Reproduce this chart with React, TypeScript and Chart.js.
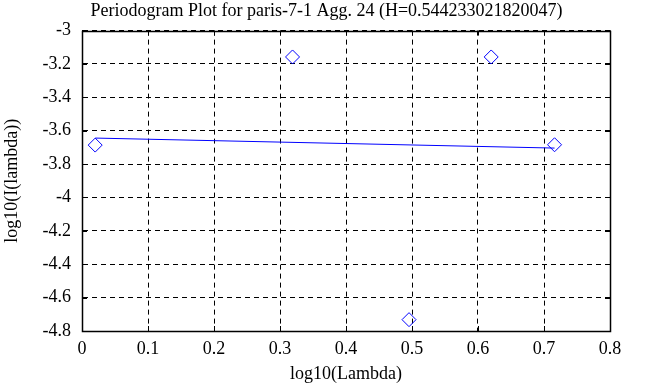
import React, { useEffect, useRef } from "react";
import { Chart, registerables } from "chart.js";

Chart.register(...registerables);

const TITLE = "Periodogram Plot for paris-7-1 Agg. 24 (H=0.544233021820047)";
const X_LABEL = "log10(Lambda)";
const Y_LABEL = "log10(I(lambda))";

const pointX = [0.02, 0.319, 0.4955, 0.62, 0.716];
const pointY = [-3.686, -3.158, -4.732, -3.158, -3.684];

const fitX = [0.02, 0.716];
const fitY = [-3.644, -3.704];

const X_MIN = 0;
const X_MAX = 0.8;
const X_STEP = 0.1;
const Y_MIN = -4.8;
const Y_MAX = -3;
const Y_STEP = 0.2;

const FONT = "'Liberation Serif', 'Times New Roman', serif";

const fmt = (v: any) => String(Number(Number(v).toFixed(1)));

const boxPlugin = {
  id: "boxPlugin",
  afterDraw(chart: any) {
    const { ctx, chartArea } = chart;
    const { left, right, top, bottom } = chartArea;
    ctx.save();
    ctx.strokeStyle = "#000";
    ctx.lineWidth = 1;
    ctx.setLineDash([]);
    const xs = chart.scales.x;
    const ys = chart.scales.y;
    const tl = 5;
    ctx.beginPath();
    xs.ticks.forEach((t: any) => {
      const px = Math.round(xs.getPixelForValue(t.value)) + 0.5;
      ctx.moveTo(px, top);
      ctx.lineTo(px, top + tl);
      ctx.moveTo(px, bottom);
      ctx.lineTo(px, bottom - tl);
    });
    ys.ticks.forEach((t: any) => {
      const py = Math.round(ys.getPixelForValue(t.value)) + 0.5;
      ctx.moveTo(left, py);
      ctx.lineTo(left + tl, py);
      ctx.moveTo(right, py);
      ctx.lineTo(right - tl, py);
    });
    ctx.stroke();
    ctx.lineWidth = 1.5;
    ctx.strokeRect(Math.round(left) + 0.5, Math.round(top) + 0.5, Math.round(right - left), Math.round(bottom - top));
    ctx.restore();
  },
};

export default function App() {
  const ref = useRef<HTMLCanvasElement | null>(null);

  useEffect(() => {
    if (!ref.current) return;
    const chart = new Chart(ref.current, {
      type: "scatter",
      data: {
        datasets: [
          {
            label: "fit",
            data: fitX.map((x, i) => ({ x, y: fitY[i] })),
            showLine: true,
            borderColor: "rgb(0,0,255)",
            borderWidth: 1,
            pointRadius: 0,
            fill: false,
          },
          {
            label: "points",
            data: pointX.map((x, i) => ({ x, y: pointY[i] })),
            showLine: false,
            pointStyle: "rectRot",
            pointRadius: 7,
            pointBorderWidth: 1,
            borderColor: "rgb(0,0,255)",
            backgroundColor: "rgba(0,0,0,0)",
            pointBackgroundColor: "rgba(0,0,0,0)",
          },
        ],
      },
      options: {
        animation: false,
        responsive: false,
        maintainAspectRatio: false,
        devicePixelRatio: 1,
        layout: { padding: 0 },
        plugins: {
          legend: { display: false },
          tooltip: { enabled: false },
          title: {
            display: true,
            text: TITLE,
            color: "#000",
            font: { family: FONT, size: 18, weight: "normal" },
            padding: { top: 0, bottom: 9 },
          },
        },
        scales: {
          x: {
            type: "linear",
            min: X_MIN,
            max: X_MAX,
            afterFit: (s: any) => {
              s.height = 56;
            },
            ticks: {
              stepSize: X_STEP,
              color: "#000",
              font: { family: FONT, size: 18 },
              padding: 7,
              maxRotation: 0,
              callback: fmt,
            },
            grid: {
              color: "#000",
              lineWidth: 1,
              drawTicks: false,
            },
            border: { display: true, color: "#000", width: 1, dash: [5, 4] },
            title: {
              display: true,
              text: X_LABEL,
              color: "#000",
              font: { family: FONT, size: 18 },
              padding: { top: 0, bottom: 2 },
            },
          },
          y: {
            type: "linear",
            min: Y_MIN,
            max: Y_MAX,
            afterFit: (s: any) => {
              s.width = 82;
            },
            ticks: {
              stepSize: Y_STEP,
              color: "#000",
              font: { family: FONT, size: 18 },
              padding: 11,
              callback: fmt,
            },
            grid: {
              color: "#000",
              lineWidth: 1,
              drawTicks: false,
            },
            border: { display: true, color: "#000", width: 1, dash: [5, 4] },
            title: {
              display: true,
              text: Y_LABEL,
              color: "#000",
              font: { family: FONT, size: 18 },
              padding: { top: 1, bottom: 0 },
            },
          },
          yRight: {
            type: "linear",
            position: "right",
            min: Y_MIN,
            max: Y_MAX,
            afterFit: (s: any) => {
              s.width = 43;
            },
            ticks: { display: false },
            grid: { display: false, drawTicks: false },
            border: { display: false },
            title: { display: false },
          },
        },
      } as any,
      plugins: [boxPlugin],
    });
    return () => chart.destroy();
  }, []);

  return (
    <div style={{ position: "fixed", left: 0, top: 0, width: 653, height: 387, background: "#fff" }}>
      <canvas ref={ref} width={653} height={387} style={{ width: 653, height: 387, display: "block" }} />
    </div>
  );
}
